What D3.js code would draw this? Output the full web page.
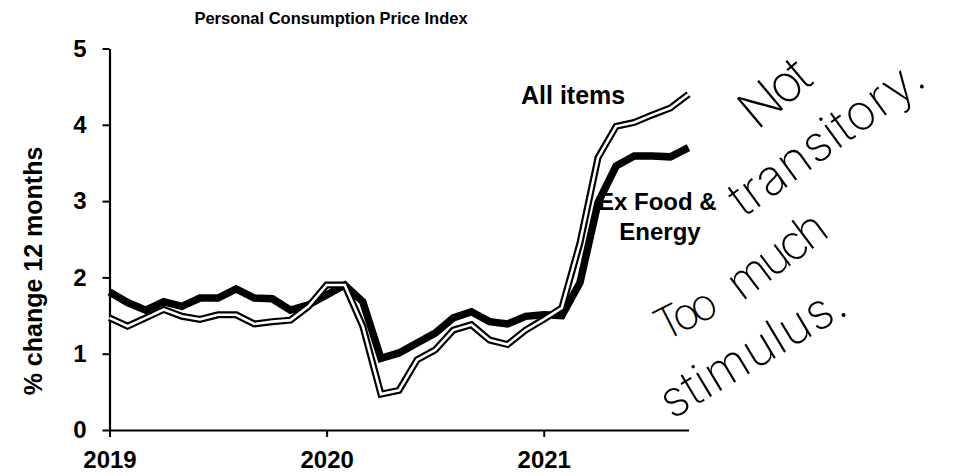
<!DOCTYPE html>
<html>
<head>
<meta charset="utf-8">
<script src="https://cdn.jsdelivr.net/npm/d3@7"></script>
<style>
  html, body { margin: 0; padding: 0; background: #fff; }
  svg { display: block; }
  .lbl { font-family: "Liberation Sans", Arial, sans-serif; font-weight: bold; fill: #000; }
  .hand { font-family: Inter, Lato, "DejaVu Sans", sans-serif; font-weight: 200; fill: #000; }
</style>
</head>
<body>
<script>
// ---- data ----
const months = ["2019-01","2019-02","2019-03","2019-04","2019-05","2019-06","2019-07","2019-08","2019-09","2019-10","2019-11","2019-12",
                "2020-01","2020-02","2020-03","2020-04","2020-05","2020-06","2020-07","2020-08","2020-09","2020-10","2020-11","2020-12",
                "2021-01","2021-02","2021-03","2021-04","2021-05","2021-06","2021-07","2021-08","2021-09"];
const allItems = [1.47,1.36,1.47,1.58,1.49,1.45,1.51,1.51,1.39,1.42,1.44,1.62,
                  1.90,1.90,1.36,0.47,0.52,0.92,1.05,1.31,1.38,1.18,1.12,1.31,
                  1.45,1.60,2.45,3.57,3.98,4.03,4.13,4.22,4.40];
const exFoodEnergy = [1.81,1.67,1.57,1.68,1.62,1.73,1.73,1.85,1.73,1.72,1.57,1.64,
                      1.77,1.90,1.68,0.94,1.01,1.14,1.27,1.47,1.55,1.42,1.39,1.49,
                      1.51,1.50,1.93,2.98,3.46,3.59,3.59,3.58,3.70];
const yTicks = [0,1,2,3,4,5];
const xTickMonths = ["2019-01","2020-01","2021-01"];
const xTickLabels = ["2019","2020","2021"];
const title = "Personal Consumption Price Index";
const yTitle = "% change 12 months";

// ---- layout ----
const W = 956, H = 476;
const svg = d3.select("body").append("svg").attr("width", W).attr("height", H);

const x = d3.scaleLinear().domain([0, months.length - 1]).range([109.5, 688.5]);
const y = d3.scaleLinear().domain([0, 5]).range([430, 48.5]);

// title
svg.append("text").attr("class","lbl").attr("x", 331).attr("y", 24)
  .attr("text-anchor","middle").style("font-size","16.5px").text(title);

// y axis
const yAxis = svg.append("g").attr("transform", `translate(${x(0)},0)`)
  .call(d3.axisLeft(y).tickValues(yTicks).tickFormat(d3.format("d")).tickSize(7).tickSizeOuter(0).tickPadding(16));
yAxis.selectAll("text").attr("class","lbl").style("font-size","24px").attr("font-family", null);
yAxis.select(".domain").attr("stroke-width", 2.2);
yAxis.selectAll(".tick line").attr("stroke-width", 2);

// x axis
const xAxis = svg.append("g").attr("transform", `translate(0,${y(0)})`)
  .call(d3.axisBottom(x).tickValues(xTickMonths.map(m => months.indexOf(m)))
    .tickFormat((d,i) => xTickLabels[i]).tickSize(7).tickSizeOuter(0).tickPadding(14));
xAxis.selectAll("text").attr("class","lbl").style("font-size","24px").attr("font-family", null);
xAxis.select(".domain").attr("stroke-width", 2.2);
xAxis.selectAll(".tick line").attr("stroke-width", 2);

// y title
svg.append("text").attr("class","lbl")
  .attr("transform", `translate(42,271) rotate(-90)`)
  .attr("text-anchor","middle").style("font-size","25px").text(yTitle);

// lines
const line = d3.line().x((d,i) => x(i)).y(d => y(d));
svg.append("path").datum(exFoodEnergy).attr("d", line)
  .attr("fill","none").attr("stroke","#000").attr("stroke-width", 7.5);
svg.append("path").datum(allItems).attr("d", line)
  .attr("fill","none").attr("stroke","#000").attr("stroke-width", 7);
svg.append("path").datum(allItems).attr("d", line)
  .attr("fill","none").attr("stroke","#fff").attr("stroke-width", 2.6);

// series labels
svg.append("text").attr("class","lbl").attr("x", 521).attr("y", 104).style("font-size","25px").text("All items");
svg.append("text").attr("class","lbl").attr("x", 598).attr("y", 210).style("font-size","24px").text("Ex Food &");
svg.append("text").attr("class","lbl").attr("x", 660).attr("y", 240).attr("text-anchor","middle").style("font-size","24px").text("Energy");

// handwritten annotation
const notes = [
  {t:"Not", x:757, y:131, a:-40, s:52, len:76},
  {t:"transitory.", x:744, y:218, a:-36, s:50, len:228},
  {t:"Too", x:664, y:342, a:-27, s:44, len:64},
  {t:"much", x:742, y:302, a:-37, s:48, len:112},
  {t:"stimulus.", x:672, y:420, a:-31, s:50, len:208}
];
svg.selectAll("text.hand").data(notes).enter().append("text").attr("class","hand")
  .attr("transform", d => `translate(${d.x},${d.y}) rotate(${d.a})`)
  .style("font-size", d => d.s + "px")
  .attr("textLength", d => d.len).attr("lengthAdjust","spacing")
  .text(d => d.t);
</script>
</body>
</html>
